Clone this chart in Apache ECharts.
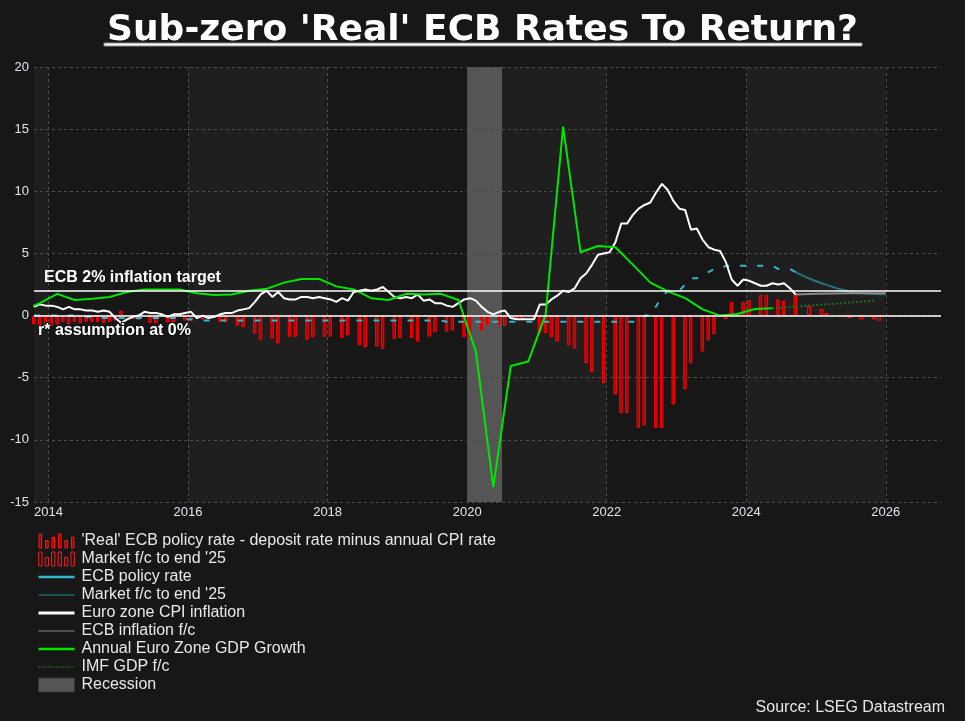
<!DOCTYPE html>
<html><head><meta charset="utf-8">
<script src="https://cdn.jsdelivr.net/npm/echarts@6/dist/echarts.min.js"></script>
<style>html,body{margin:0;padding:0;background:#171717;}#c{width:965px;height:721px;}</style>
</head><body><div id="c"></div>
<script>
const FONT = "'Liberation Sans', Arial, sans-serif";
const TITLE = "Sub-zero 'Real' ECB Rates To Return?";
const SOURCE = "Source: LSEG Datastream";

// Monthly series start: Oct 2013
const monthStartYear = 2013, monthStartIndex = 9;
// Euro zone CPI inflation, Oct 2013 - Sep 2024
const cpi = [
  0.7, 0.9, 0.8,
  0.8, 0.7, 0.5, 0.7, 0.5, 0.5, 0.4, 0.4, 0.3, 0.4, 0.3, -0.2,
  -0.6, -0.3, -0.1, 0.0, 0.3, 0.2, 0.2, 0.1, -0.1, 0.1, 0.1, 0.2,
  0.3, -0.2, 0.0, -0.2, -0.1, 0.1, 0.2, 0.2, 0.4, 0.5, 0.6, 1.1,
  1.7, 2.0, 1.5, 1.9, 1.4, 1.3, 1.3, 1.5, 1.5, 1.4, 1.5, 1.4,
  1.3, 1.1, 1.4, 1.2, 1.9, 2.0, 2.1, 2.0, 2.1, 2.3, 1.9, 1.5,
  1.4, 1.5, 1.4, 1.7, 1.2, 1.3, 1.0, 1.0, 0.8, 0.7, 1.0, 1.3,
  1.4, 1.2, 0.7, 0.3, 0.1, 0.3, 0.4, -0.2, -0.3, -0.3, -0.3, -0.3,
  0.9, 0.9, 1.3, 1.6, 2.0, 1.9, 2.2, 3.0, 3.4, 4.1, 4.9, 5.0,
  5.1, 5.9, 7.4, 7.4, 8.1, 8.6, 8.9, 9.1, 9.9, 10.6, 10.1, 9.2,
  8.6, 8.5, 6.9, 7.0, 6.1, 5.5, 5.3, 5.2, 4.3, 2.9, 2.4, 2.9,
  2.8, 2.6, 2.4, 2.4, 2.6, 2.5, 2.6, 2.2, 1.7
];
// ECB policy (deposit) rate, Oct 2013 - Oct 2024
const policyRate = [
  0, 0, 0,
  0, 0, 0, 0, 0, -0.1, -0.1, -0.1, -0.2, -0.2, -0.2, -0.2,
  -0.2, -0.2, -0.2, -0.2, -0.2, -0.2, -0.2, -0.2, -0.2, -0.2, -0.2, -0.3,
  -0.3, -0.3, -0.4, -0.4, -0.4, -0.4, -0.4, -0.4, -0.4, -0.4, -0.4, -0.4,
  -0.4, -0.4, -0.4, -0.4, -0.4, -0.4, -0.4, -0.4, -0.4, -0.4, -0.4, -0.4,
  -0.4, -0.4, -0.4, -0.4, -0.4, -0.4, -0.4, -0.4, -0.4, -0.4, -0.4, -0.4,
  -0.4, -0.4, -0.4, -0.4, -0.4, -0.4, -0.4, -0.4, -0.5, -0.5, -0.5, -0.5,
  -0.5, -0.5, -0.5, -0.5, -0.5, -0.5, -0.5, -0.5, -0.5, -0.5, -0.5, -0.5,
  -0.5, -0.5, -0.5, -0.5, -0.5, -0.5, -0.5, -0.5, -0.5, -0.5, -0.5, -0.5,
  -0.5, -0.5, -0.5, -0.5, -0.5, -0.5, 0, 0, 0.75, 1.5, 2.0, 2.0,
  2.0, 2.5, 3.0, 3.0, 3.25, 3.5, 3.75, 3.75, 4.0, 4.0, 4.0, 4.0,
  4.0, 4.0, 4.0, 4.0, 4.0, 3.75, 3.75, 3.75, 3.5, 3.25
];
// 'Real' ECB policy rate bars, Oct 2013 - Sep 2024 (null = no bar drawn)
const realRate = [
  -0.7, -0.9, -0.8,
  -0.8, -0.7, -0.5, -0.7, -0.5, -0.6, -0.5, -0.5, -0.5, -0.6, -0.5, -0.4,
  0.4, null, -0.3, -0.35, null, -0.6, -0.6, null, -0.55, -0.55, null, -0.4,
  -0.45, null, -0.3, -0.2, null, -0.5, -0.55, null, -0.8, -0.95, null, -1.45,
  -2.0, null, -1.85, -2.25, null, -1.7, -1.7, null, -1.95, -1.75, null, -1.7,
  -1.7, null, -1.8, -1.6, null, -2.4, -2.55, null, -2.5, -2.7, null, -1.9,
  -1.8, null, -1.8, -2.1, null, -1.7, -1.35, null, -1.3, -1.2, null, -1.75,
  -1.8, null, -1.2, -0.75, null, -0.75, -0.85, null, -0.3, -0.3, null, -0.2,
  -1.4, -1.4, -1.75, -2.1, null, -2.4, -2.65, null, -3.85, -4.55, null, -5.45,
  null, -6.35, -7.85, -7.85, null, -9.05, -8.85, null, -9.05, -9.05, null, -7.15,
  null, -5.95, -3.85, null, -2.9, -2.0, -1.5, null, -0.3, 1.1, null, 1.1,
  1.25, null, 1.65, 1.65, null, 1.3, 1.2, null, 1.75
];
// Market f/c 'real' rate bars to end '25: [decimal year, value]
const realRateFcYears = [2024.90, 2025.08, 2025.15, 2025.41, 2025.48, 2025.65, 2025.83, 2025.90];
const realRateFcValues = [0.77, 0.52, 0.2, -0.1, -0.2, -0.32, -0.3, -0.42];
// Market f/c of ECB policy rate
const policyFcYears = [2024.708, 2024.918, 2025.157, 2025.348, 2025.587, 2026.0];
const policyFcValues = [3.5, 2.94, 2.46, 2.12, 1.84, 1.71];
// ECB inflation f/c
const inflFcYears = [2024.708, 2025.0, 2025.5, 2026.0];
const inflFcValues = [1.7, 1.75, 1.8, 1.8];
// Annual GDP growth, quarterly from Q3 2013 to Q2 2024
const gdpStartYear = 2013, gdpStartQuarter = 2;
const gdp = [
  0.4, 1.0,
  1.75, 1.25, 1.35, 1.5,
  1.9, 2.1, 2.1, 2.1,
  1.8, 1.65, 1.7, 2.0,
  2.15, 2.65, 2.95, 2.95,
  2.35, 2.1, 1.4, 1.25,
  1.75, 1.7, 1.75, 1.25,
  -2.9, -13.8, -4.05, -3.7,
  0.1, 15.2, 5.1, 5.6,
  5.5, 4.1, 2.65, 1.95,
  1.4, 0.5, 0.0, 0.13,
  0.53, 0.59
];
// IMF GDP f/c
const imfYears = [2024.375, 2024.875, 2025.375, 2025.83];
const imfValues = [0.59, 0.79, 1.0, 1.2];
// Recession and background bands
const recession = [2020.0, 2020.5];
const lightBands = [[2013 + 9.5 / 12, 2014], [2016, 2018], [2020, 2022], [2024, 2026]];
const xMin = 2013 + 9.5 / 12, xMax = 2026 + 9.5 / 12;
const yTicks = { min: -15, max: 20, interval: 5 };
const targetLine = 2, rStarLine = 0;

const N_REAL = "'Real' ECB policy rate - deposit rate minus annual CPI rate";
const N_MFC_BAR = "Market f/c to end '25";
const N_POLICY = "ECB policy rate";
const N_MFC_LINE = "Market f/c to end '25 ";
const N_CPI = "Euro zone CPI inflation";
const N_INFL_FC = "ECB inflation f/c";
const N_GDP = "Annual Euro Zone GDP Growth";
const N_IMF = "IMF GDP f/c";
const N_REC = "Recession";

const monthX = i => monthStartYear + (monthStartIndex + i + 0.5) / 12;
const quarterX = i => gdpStartYear + ((gdpStartQuarter + i) * 3 + 1.5) / 12;
const zip = (xs, ys) => xs.map((x, i) => [x, ys[i]]);

const cpiData = cpi.map((v, i) => [monthX(i), v]);
const policyData = policyRate.map((v, i) => [monthX(i), v]);
const realData = realRate.map((v, i) => [monthX(i), v]).filter(d => d[1] !== null);
const gdpData = gdp.map((v, i) => [quarterX(i), v]);

const chart = echarts.init(document.getElementById('c'), null, { renderer: 'canvas' });
const gridColor = '#4d4d4d';
const labelColor = '#dfe5ec';
const noSym = { opacity: 0 };

chart.setOption({
  animation: false,
  backgroundColor: '#171717',
  title: [{
    text: TITLE, left: 'center', top: 8,
    textStyle: { color: '#ffffff', fontSize: 36, fontWeight: 'bold', fontFamily: "'DejaVu Sans', sans-serif" }
  }, {
    text: SOURCE, right: 15, bottom: 0,
    textStyle: { color: '#e6e6e6', fontSize: 16, fontWeight: 'normal', fontFamily: FONT }
  }],
  graphic: [{
    type: 'rect', shape: { x: 104, y: 43, width: 758, height: 3 },
    style: { fill: '#ffffff', stroke: '#8a8a8a', lineWidth: 1 }, z: 10
  }],
  grid: { left: 34, right: 24, top: 67, bottom: 219, containLabel: false },
  xAxis: {
    type: 'value', min: xMin, max: xMax, splitNumber: 6,
    axisLine: { show: false }, axisTick: { show: false },
    axisLabel: {
      color: labelColor, fontSize: 13, fontFamily: FONT, margin: 4,
      showMinLabel: false, showMaxLabel: false,
      formatter: v => (Math.abs(v - Math.round(v)) < 1e-6 ? String(Math.round(v)) : '')
    },
    splitLine: { show: true, showMinLine: false, showMaxLine: false, lineStyle: { color: gridColor, type: [3, 3], width: 1 } }
  },
  yAxis: {
    type: 'value', min: yTicks.min, max: yTicks.max, interval: yTicks.interval,
    axisLine: { show: false }, axisTick: { show: false },
    axisLabel: { color: labelColor, fontSize: 13, fontFamily: FONT, margin: 5 },
    splitLine: { show: true, lineStyle: { color: gridColor, type: [3, 3], width: 1 } }
  },
  legend: {
    orient: 'vertical', left: 32, top: 528, itemWidth: 36, itemHeight: 14, itemGap: 2,
    textStyle: { color: '#e8e8e8', fontSize: 16, fontFamily: FONT, padding: [0, 0, 0, 2] },
    selectedMode: false,
    data: [
      { name: N_REAL, icon: 'path://M1,0h2.4v13h-2.4z M7,6h2.4v7h-2.4z M13,3h2.4v10h-2.4z M19,0h2.4v13h-2.4z M25,6h2.4v7h-2.4z M31,3h2.4v10h-2.4z',
        itemStyle: { color: '#8c0000', borderColor: '#ff1a1a', borderWidth: 1 } },
      { name: N_MFC_BAR, icon: 'path://M1,0h3v13h-3z M7,5h3v8h-3z M13,0h3v13h-3z M19,0h3v13h-3z M25,5h3v8h-3z M31,0h3v13h-3z',
        itemStyle: { color: 'rgba(0,0,0,0)', borderColor: '#ff1a1a', borderWidth: 1 } },
      { name: N_POLICY, itemStyle: noSym, lineStyle: { type: 'solid', width: 2.5, color: '#30b8c8' } },
      { name: N_MFC_LINE, itemStyle: noSym, lineStyle: { type: 'solid', width: 1.5, color: '#1f6a6c' } },
      { name: N_CPI, itemStyle: noSym, lineStyle: { width: 3 } },
      { name: N_INFL_FC, itemStyle: noSym, lineStyle: { width: 1, color: '#8a8a8a' } },
      { name: N_GDP, itemStyle: noSym, lineStyle: { width: 2.5 } },
      { name: N_IMF, itemStyle: noSym, lineStyle: { width: 1.5, type: 'dotted' } },
      { name: N_REC, icon: 'rect', itemStyle: { color: '#555555', borderColor: '#333333', borderWidth: 1 } }
    ]
  },
  series: [
    {
      name: '_bands', type: 'line', data: [], silent: true,
      markArea: {
        silent: true, z: -2,
        itemStyle: { color: '#1f1f1f' },
        data: lightBands.map(b => [{ xAxis: b[0] }, { xAxis: b[1] }])
      }
    },
    {
      name: N_REC, type: 'line', data: [], silent: true,
      itemStyle: { color: '#555555' },
      markArea: {
        silent: true, z: -1,
        itemStyle: { color: '#555555' },
        data: [[{ xAxis: recession[0] }, { xAxis: recession[1] }]]
      }
    },
    {
      name: N_REAL, type: 'bar', data: realData, barWidth: 3.5, barGap: '-100%', z: 3,
      itemStyle: { color: '#b00000', borderColor: '#ff0000', borderWidth: 1 }
    },
    {
      name: N_MFC_BAR, type: 'bar', data: zip(realRateFcYears, realRateFcValues), barWidth: 4, barGap: '-100%', z: 3,
      itemStyle: { color: 'rgba(0,0,0,0)', borderColor: '#ff0000', borderWidth: 1.2 }
    },
    {
      name: N_POLICY, type: 'line', data: policyData, showSymbol: false, symbol: 'none', z: 4,
      itemStyle: { color: '#30b8c8' },
      lineStyle: { color: '#30b8c8', width: 2, type: [6, 11] }
    },
    {
      name: N_MFC_LINE, type: 'line', data: zip(policyFcYears, policyFcValues), showSymbol: false, symbol: 'none', smooth: 0.3, z: 4,
      itemStyle: { color: '#2b8f96' },
      lineStyle: { color: 'rgba(48,170,182,0.6)', width: 2 }
    },
    {
      name: N_INFL_FC, type: 'line', data: zip(inflFcYears, inflFcValues), showSymbol: false, symbol: 'none', z: 4,
      itemStyle: { color: '#8a8a8a' },
      lineStyle: { color: '#8a8a8a', width: 2 }
    },
    {
      name: N_CPI, type: 'line', data: cpiData, showSymbol: false, symbol: 'none', z: 5,
      itemStyle: { color: '#ffffff' },
      lineStyle: { color: '#ffffff', width: 2 },
      markLine: {
        silent: true, symbol: 'none', z: 6,
        lineStyle: { color: '#ffffff', width: 1.5, type: 'solid' },
        data: [
          { yAxis: targetLine, label: { show: true, formatter: 'ECB 2% inflation target', position: 'insideStartTop', distance: [10, 5],
              color: '#ffffff', fontSize: 16, fontWeight: 'bold', fontFamily: FONT } },
          { yAxis: rStarLine, label: { show: true, formatter: 'r* assumption at 0%', position: 'insideStartBottom', distance: [4, 7],
              color: '#ffffff', fontSize: 16, fontWeight: 'bold', fontFamily: FONT, textBorderColor: '#111111', textBorderWidth: 2 } }
        ]
      }
    },
    {
      name: N_GDP, type: 'line', data: gdpData, showSymbol: false, symbol: 'none', z: 5,
      itemStyle: { color: '#00e600' },
      lineStyle: { color: '#00e600', width: 2 }
    },
    {
      name: N_IMF, type: 'line', data: zip(imfYears, imfValues), showSymbol: false, symbol: 'none', z: 5,
      itemStyle: { color: '#1f6b1f' },
      lineStyle: { color: '#1f6b1f', width: 2, type: 'dotted' }
    }
  ]
});
</script></body></html>
